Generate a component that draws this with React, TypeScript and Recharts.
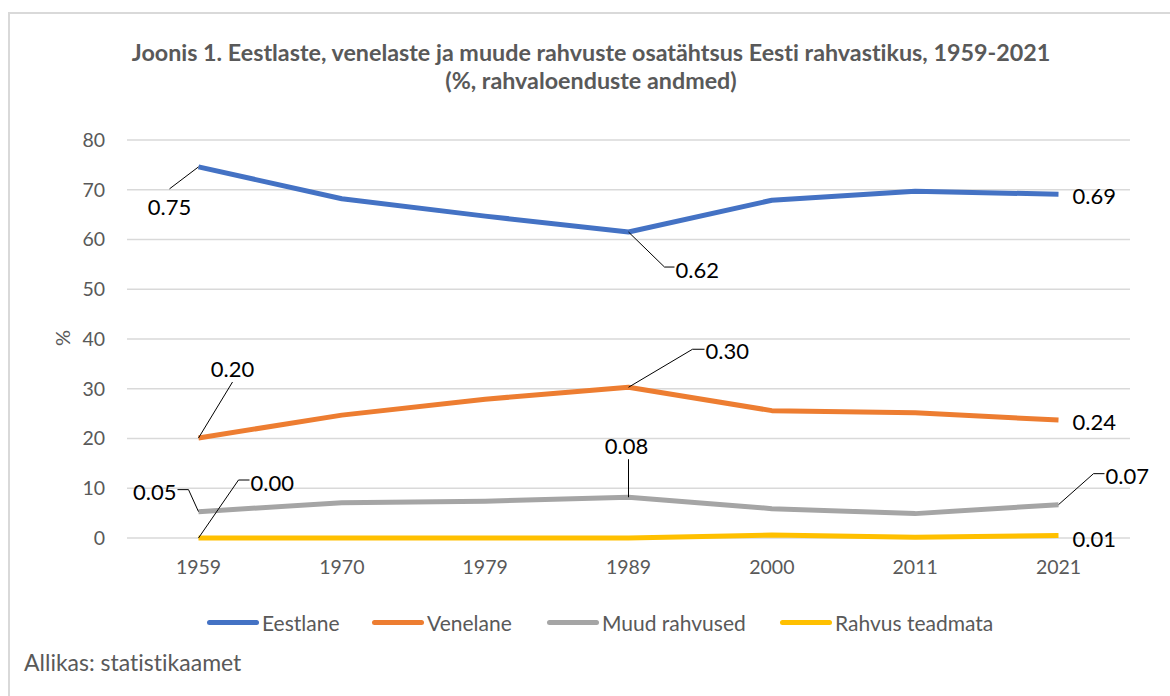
import React from 'react'
import { LineChart, Line, XAxis, YAxis, CartesianGrid } from 'recharts'

// census years
const years = ['1959', '1970', '1979', '1989', '2000', '2011', '2021']

// share of population, %
const eestlane = [74.6, 68.2, 64.7, 61.5, 67.9, 69.7, 69.1]
const venelane = [20.1, 24.7, 27.9, 30.3, 25.6, 25.2, 23.7]
const muud = [5.3, 7.1, 7.4, 8.2, 5.9, 4.9, 6.7]
const teadmata = [0, 0, 0, 0, 0.6, 0.15, 0.5]

// data labels as printed on the figure (null = no label)
const eestlaneLabels = ['0.75', null, null, '0.62', null, null, '0.69']
const venelaneLabels = ['0.20', null, null, '0.30', null, null, '0.24']
const muudLabels = ['0.05', null, null, '0.08', null, null, '0.07']
const teadmataLabels = ['0.00', null, null, null, null, null, '0.01']

const yTicks = [0, 10, 20, 30, 40, 50, 60, 70, 80]

const seriesNames = ['Eestlane', 'Venelane', 'Muud rahvused', 'Rahvus teadmata']

const data = years.map((year, i) => ({
  year,
  eestlane: eestlane[i],
  venelane: venelane[i],
  muud: muud[i],
  teadmata: teadmata[i],
}))

const FONT = 'Lato, "Open Sans", sans-serif'
const GREY_TEXT = '#595959'

const colors = {
  eestlane: '#4472C4',
  venelane: '#ED7D31',
  muud: '#A5A5A5',
  teadmata: '#FFC000',
}

type Place = { lead?: number[][]; tx: number; ty: number; anchor: 'start' | 'middle' | 'end' }

// where each data label sits relative to its point (leader line bends, text anchor)
const placements: Record<string, Record<number, Place>> = {
  eestlane: {
    0: { lead: [[-29, 22]], tx: -29, ty: 40, anchor: 'middle' },
    3: { lead: [[36, 35], [46, 35]], tx: 47, ty: 37, anchor: 'start' },
    6: { tx: 14, ty: 1, anchor: 'start' },
  },
  venelane: {
    0: { lead: [[34, -56]], tx: 34, ty: -70, anchor: 'middle' },
    3: { lead: [[64, -38], [76, -38]], tx: 77, ty: -37, anchor: 'start' },
    6: { tx: 14, ty: 1, anchor: 'start' },
  },
  muud: {
    0: { lead: [[-10, -22], [-21, -22]], tx: -22, ty: -20, anchor: 'end' },
    3: { lead: [[0, -38]], tx: -2, ty: -52, anchor: 'middle' },
    6: { lead: [[35, -31], [46, -31]], tx: 47, ty: -29, anchor: 'start' },
  },
  teadmata: {
    0: { lead: [[40, -58], [51, -58]], tx: 52, ty: -56, anchor: 'start' },
    6: { tx: 14, ty: 3, anchor: 'start' },
  },
}

const makeLabel = (key: string, labels: (string | null)[]) => (props: any) => {
  const { x, y, index } = props
  const text = labels[index]
  const place = placements[key][index]
  if (text == null || !place) return <g key={`${key}-l-${index}`} />
  const pts = [[x, y], ...(place.lead || []).map(([dx, dy]) => [x + dx, y + dy])]
  return (
    <g key={`${key}-l-${index}`}>
      {place.lead && (
        <polyline points={pts.map((p) => p.join(',')).join(' ')} fill="none" stroke="#000" strokeWidth={1} />
      )}
      <text
        x={x + place.tx}
        y={y + place.ty}
        textAnchor={place.anchor}
        dominantBaseline="central"
        fontSize={22}
        fontFamily={FONT}
        fill="#000"
      >
        {text}
      </text>
    </g>
  )
}

const legendLefts = [207, 372, 547, 780]

export default function App() {
  const keys = ['eestlane', 'venelane', 'muud', 'teadmata'] as const
  return (
    <div
      style={{
        position: 'relative',
        width: 1170,
        height: 696,
        background: '#fff',
        overflow: 'hidden',
        fontFamily: FONT,
        fontVariantLigatures: 'none',
        fontFeatureSettings: '"liga" 0, "dlig" 0, "clig" 0',
      }}
    >
      <style>{'body{margin:0}'}</style>
      <div style={{ position: 'absolute', left: 8, top: 12, width: 1200, height: 720, border: '2px solid #d9d9d9', boxSizing: 'border-box' }} />
      <div style={{ position: 'absolute', left: 0, top: 38, width: 1182, textAlign: 'center', fontWeight: 700, fontSize: 23.3, lineHeight: '28px', color: GREY_TEXT }}>
        Joonis 1. Eestlaste, venelaste ja muude rahvuste osatähtsus Eesti rahvastikus, 1959-2021
        <br />
        (%, rahvaloenduste andmed)
      </div>
      <div style={{ position: 'absolute', left: 50, top: 326, width: 24, height: 24, transform: 'rotate(-90deg)', fontSize: 20, color: GREY_TEXT, textAlign: 'center', lineHeight: '24px' }}>
        %
      </div>
      <LineChart width={1170} height={696} data={data} margin={{ top: 140, right: 40, left: 0, bottom: 128 }}>
        <CartesianGrid horizontal vertical={false} stroke="#d9d9d9" strokeWidth={1.5} />
        <XAxis
          dataKey="year"
          height={30}
          padding={{ left: 71.5, right: 71.5 }}
          axisLine={false}
          tickLine={false}
          tickMargin={16}
          tick={{ fontSize: 19.5, fill: GREY_TEXT, fontFamily: FONT }}
        />
        <YAxis
          width={127}
          domain={[0, 80]}
          ticks={yTicks}
          interval={0}
          axisLine={false}
          tickLine={false}
          tickMargin={16}
          tick={{ fontSize: 19.5, fill: GREY_TEXT, fontFamily: FONT }}
        />
        <Line dataKey="eestlane" name={seriesNames[0]} stroke={colors.eestlane} strokeWidth={5} strokeLinejoin="round" dot={false} isAnimationActive={false} label={makeLabel('eestlane', eestlaneLabels)} />
        <Line dataKey="venelane" name={seriesNames[1]} stroke={colors.venelane} strokeWidth={5} strokeLinejoin="round" dot={false} isAnimationActive={false} label={makeLabel('venelane', venelaneLabels)} />
        <Line dataKey="muud" name={seriesNames[2]} stroke={colors.muud} strokeWidth={5} strokeLinejoin="round" dot={false} isAnimationActive={false} label={makeLabel('muud', muudLabels)} />
        <Line dataKey="teadmata" name={seriesNames[3]} stroke={colors.teadmata} strokeWidth={5} strokeLinejoin="round" dot={false} isAnimationActive={false} label={makeLabel('teadmata', teadmataLabels)} />
      </LineChart>
      {keys.map((k, i) => (
        <div key={k} style={{ position: 'absolute', left: legendLefts[i], top: 608, height: 28, display: 'flex', alignItems: 'center', fontSize: 21, color: GREY_TEXT }}>
          <div style={{ width: 52, height: 5, borderRadius: 3, background: colors[k], marginRight: 3 }} />
          <span>{seriesNames[i]}</span>
        </div>
      ))}
      <div style={{ position: 'absolute', left: 24, top: 648, fontSize: 23, color: GREY_TEXT }}>Allikas: statistikaamet</div>
    </div>
  )
}
